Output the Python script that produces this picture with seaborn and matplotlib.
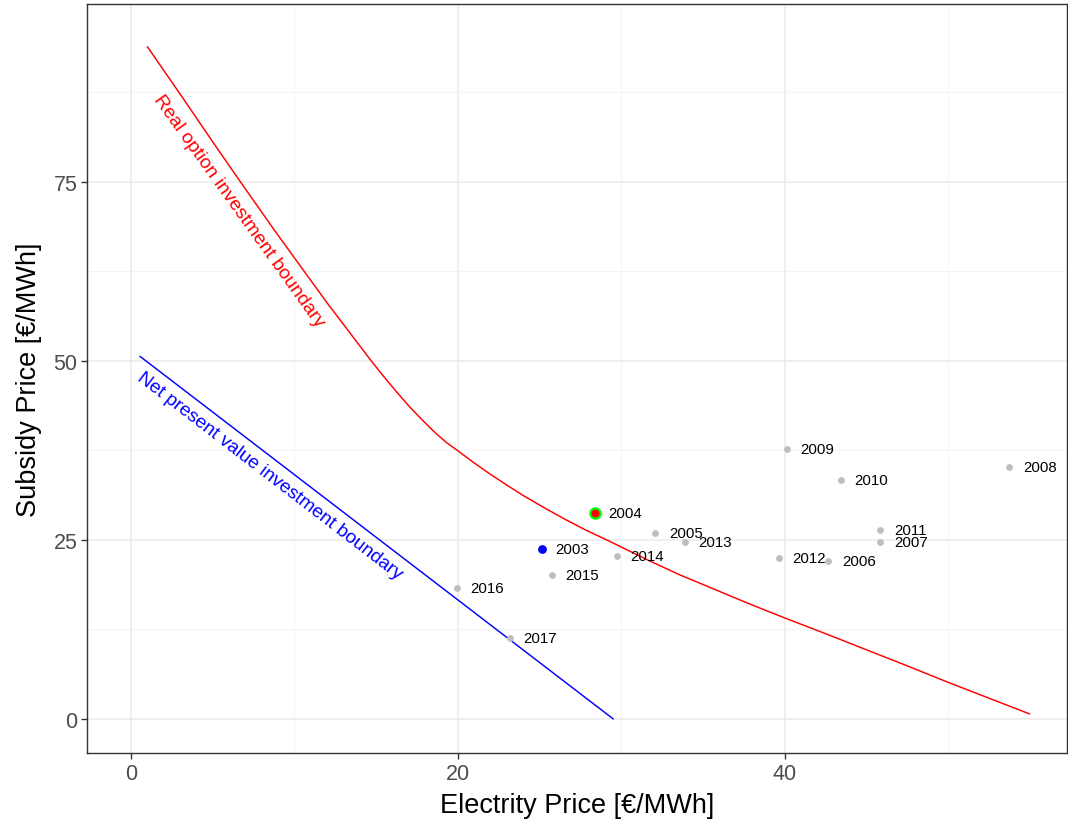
import matplotlib
matplotlib.use("Agg")
import matplotlib.pyplot as plt
import seaborn as sns
import pandas as pd

# ---- data ----
years = ["2003", "2004", "2005", "2006", "2007", "2008", "2009", "2010",
         "2011", "2012", "2013", "2014", "2015", "2016", "2017"]
elec_price = [25.14, 28.38, 32.07, 42.66, 45.83, 53.72, 40.12, 43.40,
              45.83, 39.65, 33.88, 29.74, 25.73, 19.92, 23.18]
subsidy_price = [23.70, 28.72, 26.02, 22.11, 24.72, 35.20, 37.71, 33.33,
                 26.44, 22.53, 24.67, 22.81, 20.07, 18.30, 11.36]

# real option investment boundary (red curve)
ro_x = [1.0, 3.0, 5.0, 6.7, 8.7, 10.6, 12.0, 13.4, 14.7, 15.4, 16.2, 17.0,
        17.8, 18.6, 19.3, 20.0, 21.0, 22.0, 23.0, 24.0, 25.2, 26.5, 27.8,
        29.2, 31.7, 33.6, 35.6, 37.8, 40.0, 42.5, 45.0, 47.5, 50.0, 54.97]
ro_y = [93.9, 87.3, 80.6, 75.0, 68.5, 62.5, 58.1, 53.9, 50.0, 48.0, 45.8,
        43.7, 41.8, 40.0, 38.6, 37.45, 35.75, 34.15, 32.65, 31.2, 29.6,
        27.95, 26.4, 24.9, 22.1, 20.1, 18.2, 16.1, 14.1, 11.9, 9.65, 7.4,
        5.1, 0.7]

# net present value investment boundary (blue line)
npv_x = [0.55, 29.5]
npv_y = [50.65, 0.0]

x_ticks = [0, 20, 40]
y_ticks = [0, 25, 50, 75]

# ---- styling ----
sns.set_theme(style="white")
plt.rcParams['font.family'] = ['Liberation Sans', 'DejaVu Sans']

fig = plt.figure(figsize=(10.68, 8.29), dpi=100)
ax = fig.add_axes([87 / 1068, 75 / 829, 980 / 1068, 749 / 829])

df_pts = pd.DataFrame({"year": years, "x": elec_price, "y": subsidy_price})
df_ro = pd.DataFrame({"x": ro_x, "y": ro_y})
df_npv = pd.DataFrame({"x": npv_x, "y": npv_y})

# grid
for v in [10, 30, 50]:
    ax.axvline(v, color="#F2F2F2", lw=0.6, zorder=0)
for v in [12.5, 37.5, 62.5, 87.5]:
    ax.axhline(v, color="#F2F2F2", lw=0.6, zorder=0)
for v in x_ticks:
    ax.axvline(v, color="#EBEBEB", lw=1.1, zorder=0)
for v in y_ticks:
    ax.axhline(v, color="#EBEBEB", lw=1.1, zorder=0)

sns.lineplot(data=df_ro, x="x", y="y", color="#FF0000", lw=1.05, sort=False,
             ax=ax, zorder=3)
sns.lineplot(data=df_npv, x="x", y="y", color="#0000FF", lw=1.05, sort=False,
             ax=ax, zorder=3)

grey = df_pts[~df_pts["year"].isin(["2003", "2004"])]
sns.scatterplot(data=grey, x="x", y="y", color="#BEBEBE", s=24, linewidth=0,
                ax=ax, zorder=4)
sns.scatterplot(data=df_pts[df_pts["year"] == "2003"], x="x", y="y",
                color="#0000FF", s=40, linewidth=0, ax=ax, zorder=5)
sns.scatterplot(data=df_pts[df_pts["year"] == "2004"], x="x", y="y",
                color="#FF0000", edgecolor="#00FF00", s=55, linewidth=1.6,
                ax=ax, zorder=5)

for yr, xv, yv in zip(years, elec_price, subsidy_price):
    ax.annotate(yr, (xv, yv), xytext=(9.7, 0), textcoords="offset points",
                ha="left", va="center", fontsize=10.8, color="black", zorder=6)

ax.text(6.6, 71.1, "Real option investment boundary", color="#FF0000",
        fontsize=13.9, rotation=-54.4, rotation_mode="anchor",
        ha="center", va="center")
ax.text(8.5, 34.0, "Net present value investment boundary", color="#0000FF",
        fontsize=13.7, rotation=-37.5, rotation_mode="anchor",
        ha="center", va="center")

ax.set_xlim(-2.69, 57.25)
ax.set_ylim(-4.75, 99.86)
ax.set_xticks(x_ticks)
ax.set_yticks(y_ticks)
ax.tick_params(axis="both", which="major", length=4, width=1.0,
               color="#333333", labelsize=15.5, labelcolor="#4D4D4D",
               bottom=True, left=True, pad=3)
for sp in ax.spines.values():
    sp.set_color("#333333")
    sp.set_linewidth(1.0)

ax.set_xlabel("Electrity Price [€/MWh]", fontsize=19.5, color="black",
              labelpad=6)
ax.set_ylabel("Subsidy Price [€/MWh]", fontsize=19.5, color="black",
              labelpad=8)

fig.savefig("out.png", dpi=100)
